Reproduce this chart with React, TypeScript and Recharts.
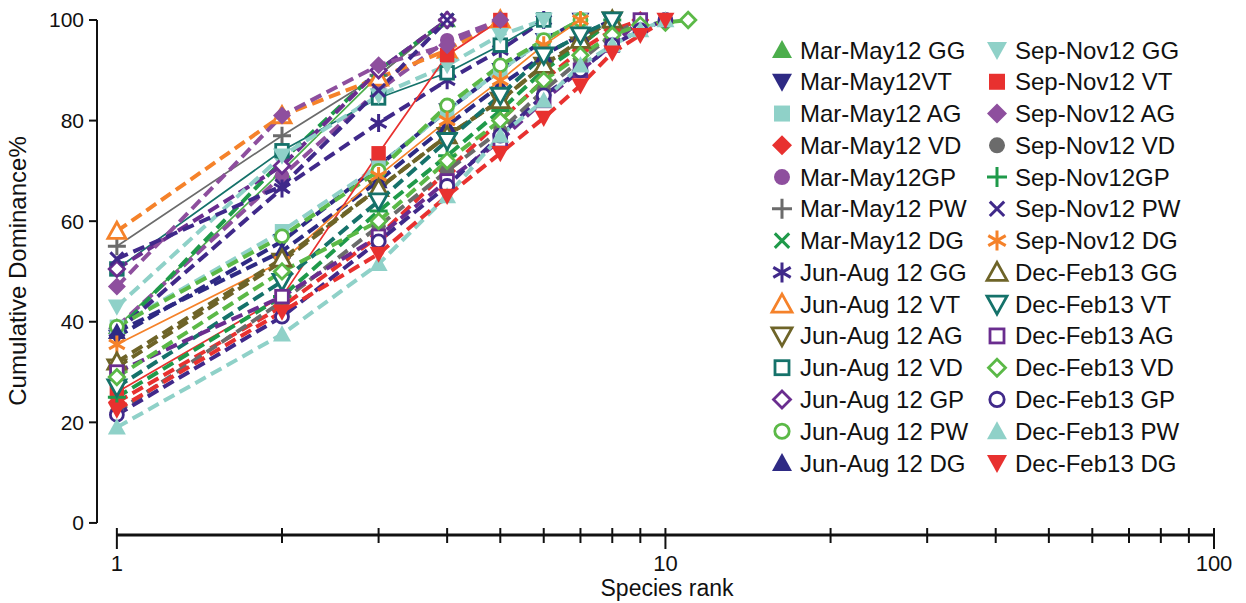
import React from "react";
import {
  LineChart,
  Line,
  XAxis,
  YAxis,
  ReferenceLine,
  Legend,
} from "recharts";

// species rank (x) — log axis
const ranks = [1, 2, 3, 4, 5, 6, 7, 8, 9, 10, 11];
const xTicks = [1, 2, 3, 4, 5, 6, 7, 8, 9, 10, 20, 30, 40, 50, 60, 70, 80, 90, 100];
const xLabels = [1, 10, 100];
const yTicks = [0, 20, 40, 60, 80, 100];

// cumulative dominance % by rank
const marMayGG = [39, 70, 89, 100];
const marMayVT = [37, 56, 71, 82, 90, 96, 100];
const marMayAG = [39, 58, 71, 82, 90, 96, 100];
const marMayVD = [24, 43, 57, 70, 80, 88, 94, 98, 100];
const marMayGP = [39, 69, 86, 96, 100];
const marMayPW = [55, 77, 89, 100];
const marMayDG = [38, 72, 90, 100];
const junAugGG = [38, 66.5, 79.5, 88, 94, 100];
const junAugVT = [58, 81, 88.5, 94, 100];
const junAugAG = [31, 52, 66.5, 77, 84, 91, 95, 100];
const junAugVD = [50.5, 74, 84.5, 89.5, 95, 100];
const junAugGP = [50.5, 71, 90, 100];
const junAugPW = [39, 57, 70, 83, 91, 96, 100];
const junAugDG = [38, 54, 68, 79, 87, 93, 97, 100];
const sepNovGG = [43, 73, 85, 91, 97, 100];
const sepNovVT = [26, 45, 73.5, 93, 100];
const sepNovAG = [47, 81, 91, 95, 100];
const sepNovVD = [22, 44, 59, 70, 78, 86, 92, 97, 100];
const sepNovGP = [25, 45, 62, 73, 82, 90, 95, 100];
const sepNovPW = [52.5, 67, 86, 100];
const sepNovDG = [35.5, 52, 69, 80, 88, 95, 100];
const decFebGG = [32, 52.5, 66.5, 77, 84, 91, 96, 100];
const decFebVT = [27, 48, 64, 76, 85, 93, 97, 100];
const decFebAG = [30, 45, 57, 68, 76, 84, 90, 95, 100];
const decFebVD = [29, 50, 60, 72, 80, 88, 93, 97, 99, 99.5, 100];
const decFebGP = [21.5, 41, 56, 67, 77, 85, 90, 95, 98, 100];
const decFebPW = [19, 37.5, 51.5, 65, 77, 84, 91, 95, 98, 100];
const decFebDG = [22.5, 42, 53.5, 65, 73.5, 80.5, 87, 93.5, 97, 100];

const X_MIN = 0.92;
const Y_MIN = -2.4;
const FONT = "'Liberation Sans', Arial, sans-serif";

const GREEN = "#4cae4c";
const DKGREEN = "#1f9a4a";
const LTGREEN = "#5bb947";
const NAVY = "#2e2a84";
const INDIGO = "#40298a";
const TEAL = "#8fd1c8";
const RED = "#e8312f";
const PURPLE = "#8e4f9e";
const DKPURPLE = "#6a2d8f";
const GREY = "#6b6b6b";
const ORANGE = "#f5822a";
const OLIVE = "#6e6428";
const DKTEAL = "#15726a";

type Shape = "up" | "down" | "square" | "diamond" | "circle" | "plus" | "cross" | "star";

const series: { name: string; values: number[]; color: string; shape: Shape; open?: boolean; thin?: boolean }[] = [
  { name: "Mar-May12 GG", values: marMayGG, color: GREEN, shape: "up", thin: true },
  { name: "Mar-May12VT", values: marMayVT, color: NAVY, shape: "down" },
  { name: "Mar-May12 AG", values: marMayAG, color: TEAL, shape: "square" },
  { name: "Mar-May12 VD", values: marMayVD, color: RED, shape: "diamond" },
  { name: "Mar-May12GP", values: marMayGP, color: PURPLE, shape: "circle" },
  { name: "Mar-May12 PW", values: marMayPW, color: GREY, shape: "plus", thin: true },
  { name: "Mar-May12 DG", values: marMayDG, color: DKGREEN, shape: "cross" },
  { name: "Jun-Aug 12 GG", values: junAugGG, color: INDIGO, shape: "star" },
  { name: "Jun-Aug 12 VT", values: junAugVT, color: ORANGE, shape: "up", open: true },
  { name: "Jun-Aug 12 AG", values: junAugAG, color: OLIVE, shape: "down", open: true },
  { name: "Jun-Aug 12 VD", values: junAugVD, color: DKTEAL, shape: "square", open: true, thin: true },
  { name: "Jun-Aug 12 GP", values: junAugGP, color: DKPURPLE, shape: "diamond", open: true },
  { name: "Jun-Aug 12 PW", values: junAugPW, color: LTGREEN, shape: "circle", open: true },
  { name: "Jun-Aug 12 DG", values: junAugDG, color: NAVY, shape: "up" },
  { name: "Sep-Nov12 GG", values: sepNovGG, color: TEAL, shape: "down" },
  { name: "Sep-Nov12 VT", values: sepNovVT, color: RED, shape: "square", thin: true },
  { name: "Sep-Nov12 AG", values: sepNovAG, color: PURPLE, shape: "diamond" },
  { name: "Sep-Nov12 VD", values: sepNovVD, color: GREY, shape: "circle" },
  { name: "Sep-Nov12GP", values: sepNovGP, color: DKGREEN, shape: "plus" },
  { name: "Sep-Nov12 PW", values: sepNovPW, color: INDIGO, shape: "cross" },
  { name: "Sep-Nov12 DG", values: sepNovDG, color: ORANGE, shape: "star", thin: true },
  { name: "Dec-Feb13 GG", values: decFebGG, color: OLIVE, shape: "up", open: true },
  { name: "Dec-Feb13 VT", values: decFebVT, color: DKTEAL, shape: "down", open: true },
  { name: "Dec-Feb13 AG", values: decFebAG, color: DKPURPLE, shape: "square", open: true },
  { name: "Dec-Feb13 VD", values: decFebVD, color: LTGREEN, shape: "diamond", open: true },
  { name: "Dec-Feb13 GP", values: decFebGP, color: INDIGO, shape: "circle", open: true },
  { name: "Dec-Feb13 PW", values: decFebPW, color: TEAL, shape: "up" },
  { name: "Dec-Feb13 DG", values: decFebDG, color: RED, shape: "down" },
];

const data = ranks.map((rank, i) => {
  const row: Record<string, number | null> = { rank };
  series.forEach((s, k) => {
    row["s" + k] = i < s.values.length ? s.values[i] : null;
  });
  return row;
});

function Marker({ cx, cy, shape, color, open, s }: { cx: number; cy: number; shape: Shape; color: string; open?: boolean; s: number }) {
  const h = s / 2;
  const fill = open ? "#fff" : color;
  const stroke = open ? color : "none";
  const sw = open ? 2.8 : 0;
  switch (shape) {
    case "up":
      return <polygon points={`${cx},${cy - h} ${cx + h},${cy + h * 0.8} ${cx - h},${cy + h * 0.8}`} fill={fill} stroke={stroke} strokeWidth={sw} />;
    case "down":
      return <polygon points={`${cx},${cy + h} ${cx + h},${cy - h * 0.8} ${cx - h},${cy - h * 0.8}`} fill={fill} stroke={stroke} strokeWidth={sw} />;
    case "square": {
      const a = open ? h * 0.7 : h * 0.8;
      return <rect x={cx - a} y={cy - a} width={2 * a} height={2 * a} fill={fill} stroke={stroke} strokeWidth={sw} />;
    }
    case "diamond": {
      const a = open ? h * 0.85 : h;
      return <polygon points={`${cx},${cy - a} ${cx + a},${cy} ${cx},${cy + a} ${cx - a},${cy}`} fill={fill} stroke={stroke} strokeWidth={sw} />;
    }
    case "circle":
      return <circle cx={cx} cy={cy} r={open ? h * 0.72 : h * 0.8} fill={fill} stroke={stroke} strokeWidth={sw} />;
    case "plus":
      return <path d={`M${cx - h},${cy}H${cx + h}M${cx},${cy - h}V${cy + h}`} stroke={color} strokeWidth={3} fill="none" />;
    case "cross": {
      const a = h * 0.72;
      return <path d={`M${cx - a},${cy - a}L${cx + a},${cy + a}M${cx - a},${cy + a}L${cx + a},${cy - a}`} stroke={color} strokeWidth={3} fill="none" />;
    }
    case "star": {
      const a = h;
      const dx = a * 0.87;
      const dy = a * 0.5;
      return (
        <path
          d={`M${cx},${cy - a}V${cy + a}M${cx - dx},${cy - dy}L${cx + dx},${cy + dy}M${cx - dx},${cy + dy}L${cx + dx},${cy - dy}`}
          stroke={color}
          strokeWidth={3}
          fill="none"
        />
      );
    }
  }
  return null;
}

function XTick(props: any) {
  const { x, y, payload } = props;
  const major = xLabels.includes(payload.value);
  return (
    <g>
      <line x1={x} x2={x} y1={y - 7} y2={major ? y + 14 : y + 8} stroke="#111" strokeWidth={2} />
      {major && (
        <text x={x} y={y + 36} textAnchor="middle" fontSize={22} fontFamily={FONT} fill="#111">
          {payload.value}
        </text>
      )}
    </g>
  );
}

function LegendBox() {
  return (
    <svg width={480} height={450}>
      {series.map((s, i) => {
        const col = i < 14 ? 0 : 1;
        const row = i % 14;
        const x = col ? 237 : 22;
        const y = 20 + row * 31.77;
        return (
          <g key={s.name}>
            <Marker cx={x} cy={y} shape={s.shape} color={s.color} open={s.open} s={20} />
            <text x={x + 18} y={y + 8.5} fontSize={24} fontFamily={FONT} fill="#111">
              {s.name}
            </text>
          </g>
        );
      })}
    </svg>
  );
}

export default function App() {
  return (
    <div style={{ position: "absolute", left: 0, top: 0, background: "#fff" }}>
      <LineChart width={1246} height={603} data={data} margin={{ top: 20, right: 32, bottom: 28, left: 37 }}>
        <XAxis
          dataKey="rank"
          type="number"
          scale="log"
          domain={[X_MIN, 100]}
          ticks={xTicks}
          interval={0}
          axisLine={false}
          tickLine={false}
          tickSize={0}
          tickMargin={0}
          height={40}
          tick={<XTick />}
          label={{
            content: () => (
              <text x={667} y={596} textAnchor="middle" fontSize={23} fontFamily={FONT} fill="#111">
                Species rank
              </text>
            ),
          }}
        />
        <YAxis
          type="number"
          domain={[Y_MIN, 100]}
          ticks={yTicks}
          width={60}
          axisLine={false}
          tickLine={{ stroke: "#111", strokeWidth: 2 }}
          tickSize={8}
          tickMargin={5}
          tick={{ fill: "#111", fontSize: 21, fontFamily: FONT }}
          label={{
            content: () => (
              <text x={26} y={271} transform="rotate(-90 26 271)" textAnchor="middle" fontSize={24} fontFamily={FONT} fill="#111">
                Cumulative Dominance%
              </text>
            ),
          }}
        />
        <ReferenceLine segment={[{ x: X_MIN, y: 0 }, { x: X_MIN, y: 100 }]} stroke="#111" strokeWidth={2} ifOverflow="visible" />
        <ReferenceLine segment={[{ x: 1, y: Y_MIN }, { x: 100, y: Y_MIN }]} stroke="#111" strokeWidth={3} ifOverflow="visible" />
        <Legend
          layout="horizontal"
          verticalAlign="middle"
          align="center"
          wrapperStyle={{ position: "absolute", left: 760, top: 30, width: 480, height: 450 }}
          content={() => <LegendBox />}
        />
        {series.map((s, k) => (
          <Line
            key={s.name}
            dataKey={"s" + k}
            name={s.name}
            type="linear"
            stroke={s.color}
            strokeWidth={s.thin ? 1.7 : 4}
            strokeDasharray={s.thin ? undefined : "12 6"}
            connectNulls={false}
            isAnimationActive={false}
            dot={(p: any) =>
              p.cy == null || p.value == null ? (
                <g key={`${k}-${p.index}`} />
              ) : (
                <Marker key={`${k}-${p.index}`} cx={p.cx} cy={p.cy} shape={s.shape} color={s.color} open={s.open} s={18} />
              )
            }
            activeDot={false}
          />
        ))}
      </LineChart>
    </div>
  );
}
